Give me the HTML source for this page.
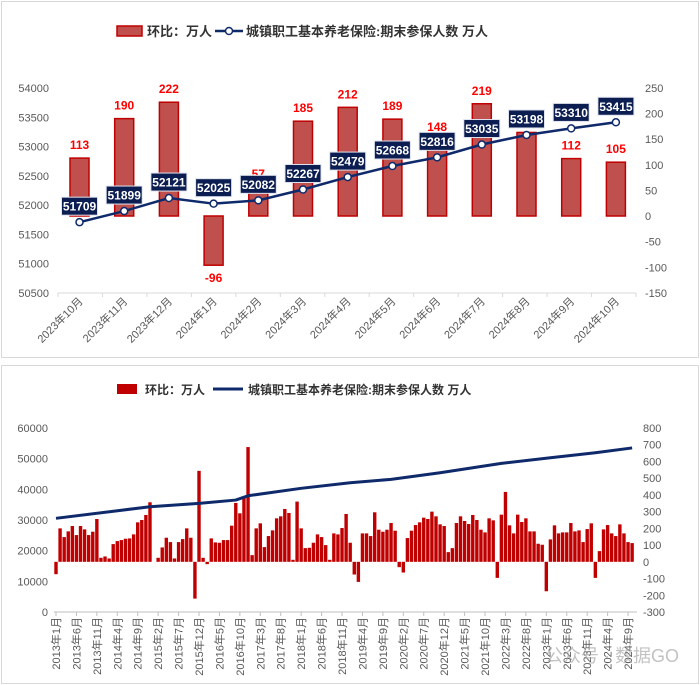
<!DOCTYPE html>
<html><head><meta charset="utf-8"><style>
html,body{margin:0;padding:0;background:#fff;}
svg{display:block;font-family:"Liberation Sans","Noto Sans CJK SC",sans-serif;}
</style></head><body>
<svg id="root" width="700" height="685" viewBox="0 0 700 685" xmlns="http://www.w3.org/2000/svg">
<rect x="1.5" y="1.5" width="697" height="356" fill="#fff" stroke="#d9d9d9"/>
<rect x="1.5" y="365.5" width="697" height="318" fill="#fff" stroke="#d9d9d9"/>
<g>
<rect x="117" y="26" width="25" height="10" fill="#c0504d" stroke="#c00000" stroke-width="1.5"/>
<text x="147" y="36" font-size="13" font-weight="bold" fill="#333">环比：万人</text>
<line x1="215" y1="31" x2="243" y2="31" stroke="#0f2a6b" stroke-width="2.5"/>
<circle cx="229" cy="31" r="3.5" fill="#fff" stroke="#0f2a6b" stroke-width="1.5"/>
<text x="246" y="36" font-size="13" font-weight="bold" fill="#333">城镇职工基本养老保险:期末参保人数 万人</text>
</g>
<g>
<rect x="117" y="384" width="20" height="10" fill="#c00000"/>
<text x="145" y="394" font-size="12" font-weight="bold" fill="#333">环比：万人</text>
<line x1="213" y1="389" x2="243" y2="389" stroke="#0f2a6b" stroke-width="3"/>
<text x="248" y="394" font-size="12" font-weight="bold" fill="#333">城镇职工基本养老保险:期末参保人数 万人</text>
</g>
<g id="top"></g>
<g id="bottom"></g>
</svg>
<script>
// ---- Top chart data ----
const topCategories = ["2023年10月","2023年11月","2023年12月","2024年1月","2024年2月","2024年3月","2024年4月","2024年5月","2024年6月","2024年7月","2024年8月","2024年9月","2024年10月"];
const topChange = [113,190,222,-96,57,185,212,189,148,219,163,112,105];
const topTotal = [51709,51899,52121,52025,52082,52267,52479,52668,52816,53035,53198,53310,53415];
const topLeftTicks = [50500,51000,51500,52000,52500,53000,53500,54000];
const topRightTicks = [-150,-100,-50,0,50,100,150,200,250];

// ---- Bottom chart data ----
const bottomChange = [-74,200,148,182,214,160,214,194,160,180,256,24,32,20,106,124,130,138,140,164,236,250,280,356,null,24,86,144,118,20,118,136,200,144,-220,544,24,-14,140,116,114,130,130,216,352,290,386,686,40,200,230,88,154,188,260,272,316,292,12,360,200,82,84,114,164,148,100,12,170,164,202,286,114,-76,-120,170,170,154,296,192,180,192,232,186,-32,-64,142,186,220,236,264,256,300,272,224,214,58,82,232,272,244,226,280,250,192,176,260,248,-96,282,418,218,170,282,238,260,182,182,108,102,-176,134,218,170,176,176,232,182,188,118,196,230,-96,64,194,220,170,154,224,170,118,112];
const bottomLineMonth = [0,23,35,44,47,60,72,82,94,109,121,132,141];
const bottomLineValue = [30550,34330,35430,36500,37900,40330,42160,43250,45420,48470,50300,51940,53500];
const bottomLeftTicks = [0,10000,20000,30000,40000,50000,60000];
const bottomRightTicks = [-300,-200,-100,0,100,200,300,400,500,600,700,800];

const NS="http://www.w3.org/2000/svg";
function mk(parent,tag,attrs,txt){const e=document.createElementNS(NS,tag);for(const k in attrs)e.setAttribute(k,attrs[k]);if(txt!==undefined)e.textContent=txt;parent.appendChild(e);return e;}

// ---- Top chart ----
(function(){
const g=document.getElementById('top');
const x0=79.5, step=44.7;
const xAt=i=>x0+i*step;
const yL=v=>293-(v-50500)*205/3500;
const yR=v=>216-v*205/400;
mk(g,'line',{x1:58,y1:293,x2:636,y2:293,stroke:'#d9d9d9','stroke-width':1});
for(const t of topLeftTicks){const e=mk(g,'text',{x:49,y:yL(t)+4,'font-size':11,fill:'#595959','text-anchor':'end'},String(t));

}
for(const t of topRightTicks){const e=mk(g,'text',{x:645,y:yR(t)+4,'font-size':11,fill:'#595959'},String(t));

}
for(let i=0;i<=topCategories.length;i++){const tx=58+i*(636-58)/topCategories.length;mk(g,'line',{x1:tx,y1:293,x2:tx,y2:297,stroke:'#d9d9d9'});}
topCategories.forEach((c,i)=>{const cx=xAt(i)+4;const e=mk(g,'text',{x:cx,y:302,'font-size':11,fill:'#595959','text-anchor':'end',transform:`rotate(-45 ${cx} 302)`},c);

});
topChange.forEach((v,i)=>{const y1=yR(0),y2=yR(v);const b=mk(g,'rect',{x:xAt(i)-9.5,y:Math.min(y1,y2),width:19,height:Math.abs(y2-y1),fill:'#c0504d',stroke:'#c00000','stroke-width':1.5});


const ly=v>=0?y2-9:y2+17;const t=mk(g,'text',{x:xAt(i),y:ly,'font-size':12,'font-weight':'bold',fill:'#ff0000','text-anchor':'middle'},String(v));

});
const pts=topTotal.map((v,i)=>`${xAt(i)},${yL(v)}`).join(' ');
const pl=mk(g,'polyline',{points:pts,fill:'none',stroke:'#0f2a6b','stroke-width':2.5});


topTotal.forEach((v,i)=>{const c=mk(g,'circle',{cx:xAt(i),cy:yL(v),r:3.5,fill:'#fff',stroke:'#0f2a6b','stroke-width':1.5});


const by=yL(v)-16;const r=mk(g,'rect',{x:xAt(i)-18,y:by-9,width:36,height:18,fill:'#0b1d51',stroke:'#dfe3ee','stroke-width':1});


const t=mk(g,'text',{x:xAt(i),y:by+4.5,'font-size':12,'font-weight':'bold',fill:'#fff','text-anchor':'middle'},String(v));

});
})();

// ---- Bottom chart ----
(function(){
const g=document.getElementById('bottom');
const x0=56, step=4.086;
const xAt=i=>x0+i*step;
const yL=v=>612-v*184/60000;
const yR=v=>428+(800-v)*184/1100;
mk(g,'line',{x1:54,y1:612,x2:637,y2:612,stroke:'#bfbfbf','stroke-width':1});
for(const t of bottomLeftTicks){const e=mk(g,'text',{x:48,y:yL(t)+4,'font-size':11,fill:'#595959','text-anchor':'end'},String(t));

}
for(const t of bottomRightTicks){const e=mk(g,'text',{x:643,y:yR(t)+4,'font-size':11,fill:'#595959'},String(t));

}
bottomChange.forEach((v,i)=>{if(v===null)return;const y1=yR(0),y2=yR(v);const b=mk(g,'rect',{x:xAt(i)-1.7,y:Math.min(y1,y2),width:3.4,height:Math.abs(y2-y1),fill:'#c00000'});

});
const pts=bottomLineValue.map((v,k)=>`${xAt(bottomLineMonth[k])},${yL(v)}`).join(' ');
const pl=mk(g,'polyline',{points:pts,fill:'none',stroke:'#0f2a6b','stroke-width':3,'stroke-linejoin':'round'});


for(let i=0;i<bottomChange.length;i+=5){const y=2013+Math.floor(i/12),m=i%12+1;const x=xAt(i);
mk(g,'line',{x1:x,y1:612,x2:x,y2:616,stroke:'#bfbfbf'});
const t=mk(g,'text',{x:x+4,y:617,'font-size':11,fill:'#595959','text-anchor':'end',transform:`rotate(-90 ${x+4} 617)`},`${y}年${m}月`);

}
})();
</script>
<div style="position:absolute;left:508;top:0"></div>
<svg style="position:absolute;left:0;top:0" width="700" height="685">
<text x="545" y="662" font-family="Liberation Sans,Noto Sans CJK SC,sans-serif" font-size="18" fill="#9a9a9a" opacity="0.6">公众号 · 数据GO</text>
</svg>
</body></html>
